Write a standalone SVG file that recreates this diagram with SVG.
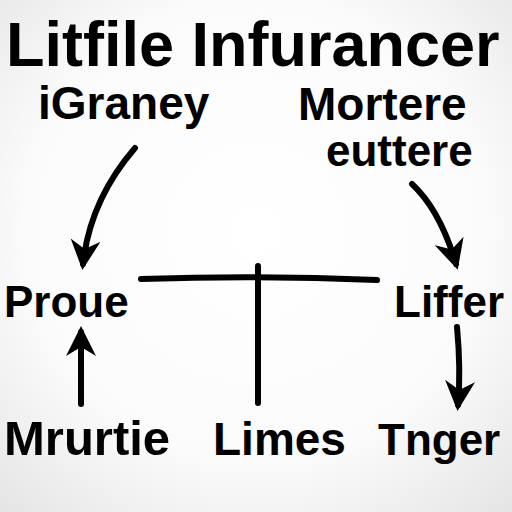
<svg xmlns="http://www.w3.org/2000/svg" width="512" height="512" viewBox="0 0 512 512">
<defs>
<radialGradient id="bg" cx="50%" cy="45%" r="75%">
<stop offset="0" stop-color="#ffffff"/>
<stop offset="0.6" stop-color="#fbfbfb"/>
<stop offset="1" stop-color="#e4e4e4"/>
</radialGradient>
<marker id="ah" markerWidth="5" markerHeight="5" viewBox="0 0 10 10" refX="8" refY="5" orient="auto" markerUnits="strokeWidth">
<path d="M0,0 L10,5 L0,10 L3,5 Z" fill="#000"/>
</marker>
<style>
.t{font-family:"Liberation Sans",Arial,sans-serif;font-weight:bold;fill:#000}
.c{fill:none;stroke:#000;stroke-width:6;stroke-linecap:round}
</style>
</defs>
<rect width="512" height="512" fill="url(#bg)"/>
<g id="title"><text class="t" x="6" y="66" font-size="63">Litfile Infurancer</text></g>
<g id="n-igraney"><text class="t" x="38" y="119" font-size="46">iGraney</text></g>
<g id="n-mortere"><text class="t" x="298" y="120" font-size="46">Mortere</text></g>
<g id="n-euttere"><text class="t" x="326" y="166" font-size="44">euttere</text></g>
<g id="n-proue"><text class="t" x="4" y="317" font-size="44">Proue</text></g>
<g id="n-liffer"><text class="t" x="394" y="317" font-size="44">Liffer</text></g>
<g id="n-mrurtie"><text class="t" x="4" y="455" font-size="49">Mrurtie</text></g>
<g id="n-limes"><text class="t" x="213" y="455" font-size="46">Limes</text></g>
<g id="n-tnger"><text class="t" x="378" y="455" font-size="44">Tnger</text></g>
<g id="connectors">
<path class="c" d="M135,148 Q90,200 83,264" marker-end="url(#ah)"/>
<path class="c" d="M412,184 Q440,210 456,264" marker-end="url(#ah)"/>
<path class="c" d="M141,279 Q260,275 377,280"/>
<path class="c" d="M258,266 L258,403"/>
<path class="c" d="M81,404 L81,332" marker-end="url(#ah)"/>
<path class="c" d="M457,327 Q461,370 458,405" marker-end="url(#ah)"/>
</g>
</svg>
